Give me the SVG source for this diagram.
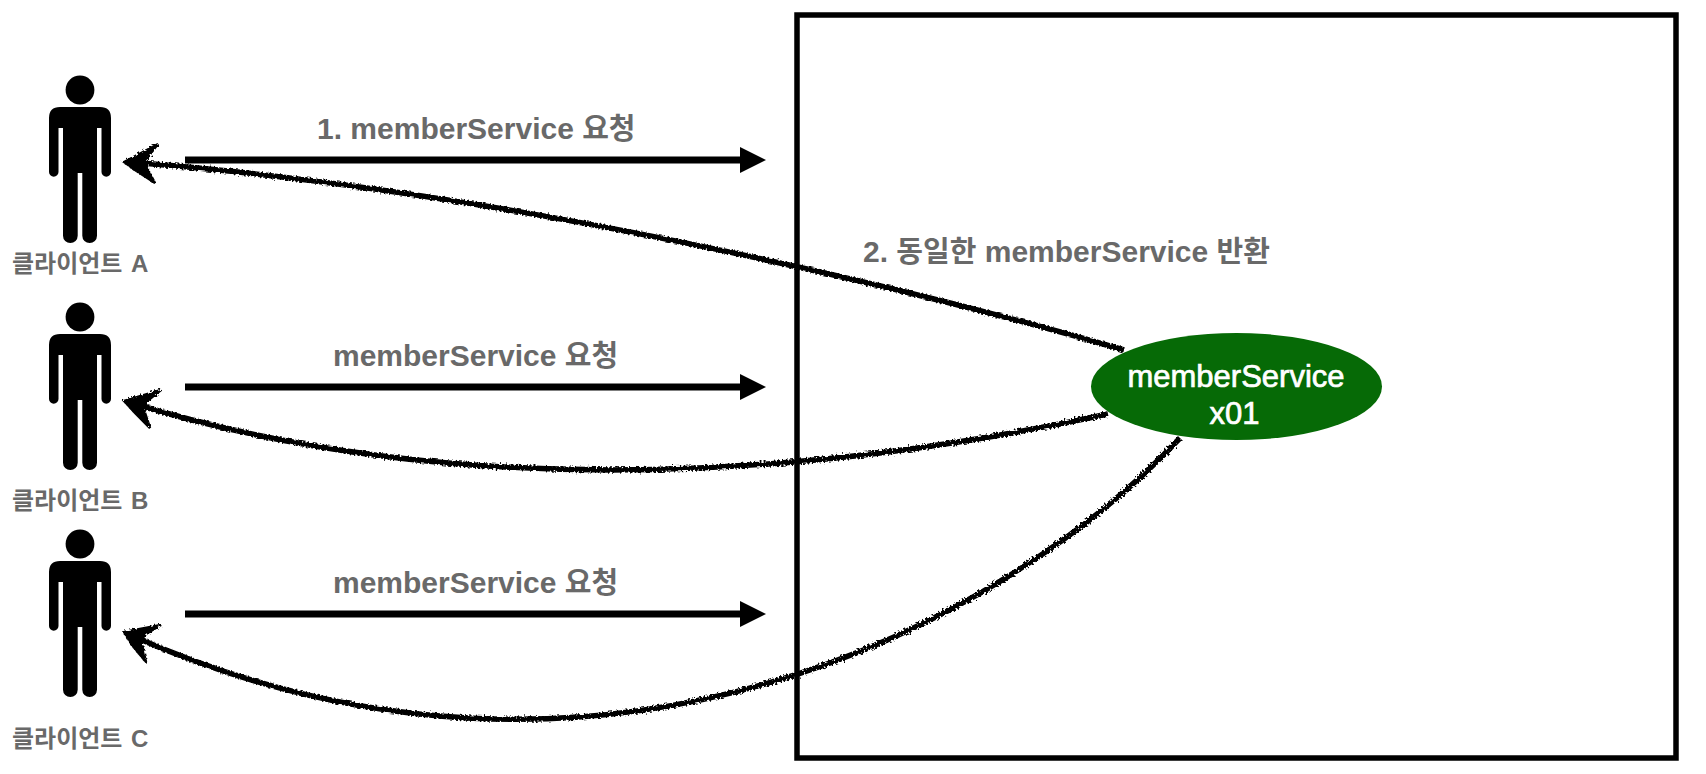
<svg xmlns="http://www.w3.org/2000/svg" width="1706" height="774" viewBox="0 0 1706 774">
<style>
.lbl{font-family:"Liberation Sans","Noto Sans CJK KR",sans-serif;font-weight:700;fill:#696969;font-size:30px}
.k{font-size:29px}
.cl{font-size:24px}
.el{font-family:"Liberation Sans",sans-serif;font-size:31px;fill:#fff;stroke:#fff;stroke-width:.7;text-anchor:middle}
.req{stroke:#000;stroke-width:7;fill:none;marker-end:url(#ah)}
.ret{stroke:#000;stroke-width:5.5;fill:none}
.head{fill:#000;stroke:#000;stroke-width:2.5}
</style>
<defs>
<marker id="ah" markerUnits="userSpaceOnUse" markerWidth="26" markerHeight="28" refX="5" refY="14" orient="auto"><path d="M0 1L26 14L0 27Z" fill="#000"/></marker>
<filter id="rough" x="-5%" y="-20%" width="110%" height="140%"><feTurbulence type="fractalNoise" baseFrequency=".5" numOctaves="2" seed="4"/><feDisplacementMap in="SourceGraphic" scale="6"/></filter>
<g id="man"><circle cx="80" cy="90" r="14.4"/><path d="M60 107H100Q111 107 111 118V172A4.75 4.75 0 0 1 101.5 172V128H97V235.7A7.35 7.35 0 0 1 82.3 235.7V173H77.7V235.7A7.35 7.35 0 0 1 63 235.7V128H58.5V172A4.75 4.75 0 0 1 49 172V118Q49 107 60 107Z"/></g>
</defs>
<rect width="1706" height="774" fill="#fff"/>
<g id="box"><rect x="797" y="15" width="879" height="743" fill="#fff" stroke="#000" stroke-width="5.5"/></g>
<g id="client-a"><use href="#man"/><text class="lbl cl" x="12" y="272">클라이언트 <tspan x="131">A</tspan></text></g>
<g id="client-b"><use href="#man" y="227"/><text class="lbl cl" x="12" y="509">클라이언트 <tspan x="131">B</tspan></text></g>
<g id="client-c"><use href="#man" y="454"/><text class="lbl cl" x="12" y="747">클라이언트 <tspan x="131">C</tspan></text></g>
<g id="member-service"><ellipse cx="1236.5" cy="386.5" rx="145.5" ry="53.5" fill="#066a06"/><text class="el" x="1236" y="387">memberService</text><text class="el" x="1234.5" y="424">x01</text></g>
<g id="connectors">
<path class="req" d="M185 160H745"/><path class="req" d="M185 387H745"/><path class="req" d="M185 614H745"/>
<g filter="url(#rough)">
<path class="ret" d="M1124 350C900 285 500 190 128 162"/>
<path class="head" d="M124 162L158 144L147 158L140 163L147 168L155 183L135 170Z"/>
<path class="ret" d="M1108 414C850 470 480 510 128 402"/>
<path class="head" d="M124 401L161 390L146 402L143 407L150 428L135 413Z"/>
<path class="ret" d="M1180 438C1010 620 600 845 128 634"/>
<path class="head" d="M124 632L161 625L146 634L141 640L146 662L132 645Z"/>
</g>
</g>
<g id="labels">
<text class="lbl" x="317" y="139">1. memberService <tspan class="k">요청</tspan></text>
<text class="lbl" x="333" y="366">memberService <tspan class="k">요청</tspan></text>
<text class="lbl" x="333" y="593">memberService <tspan class="k">요청</tspan></text>
<text class="lbl" x="863" y="262">2. <tspan class="k">동일한</tspan> memberService <tspan class="k">반환</tspan></text>
</g>
</svg>
